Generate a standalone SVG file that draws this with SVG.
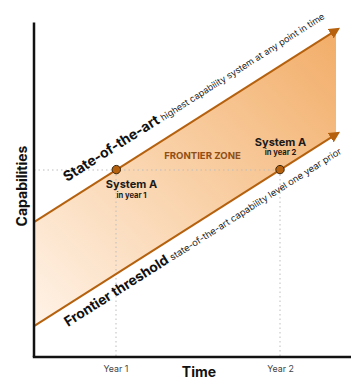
<svg xmlns="http://www.w3.org/2000/svg" width="359" height="392" viewBox="0 0 359 392">
<defs>
<linearGradient id="zoneGrad" gradientUnits="userSpaceOnUse" x1="34" y1="326" x2="336" y2="30">
<stop offset="0" stop-color="#fff3e8"/>
<stop offset="0.5" stop-color="#f9d1a8"/>
<stop offset="1" stop-color="#f2ad68"/>
</linearGradient>
<marker id="arrow" markerUnits="userSpaceOnUse" markerWidth="12" markerHeight="12" viewBox="0 -6 12 12" refX="1" refY="0" orient="auto">
<path d="M0,-5.5 L11,0 L0,5.5 z" fill="#b5610e"/>
</marker>
<style>
text { font-family: Inter, "Liberation Sans", Arial, sans-serif; }
.axis { stroke: #111; stroke-width: 2.5; fill: none; }
.guide { stroke: #bdbdbd; stroke-width: 1; stroke-dasharray: 1.5 3; fill: none; }
.trend { stroke: #b5610e; stroke-width: 2; fill: none; }
.dot { fill: #b5610e; stroke: #3a2408; stroke-width: 1; }
.bold { font-weight: 700; fill: #111; }
.reg { font-weight: 400; fill: #222; }
.tick { font-size: 8.8px; fill: #444; text-anchor: middle; }
.sys { font-size: 11px; font-weight: 700; fill: #1a1a1a; text-anchor: middle; }
.sub { font-size: 7.6px; font-weight: 700; fill: #1a1a1a; text-anchor: middle; }
</style>
</defs>
<g id="frontier-zone">
<polygon points="34,222.1 336,30.3 336,134.4 34,326.2" fill="url(#zoneGrad)"/>
<text x="202.5" y="159" font-size="9.6" font-weight="700" fill="#8f4e16" text-anchor="middle">FRONTIER ZONE</text>
</g>
<g id="guides">
<line class="guide" x1="34" y1="170" x2="280" y2="170"/>
<line class="guide" x1="116" y1="170" x2="116" y2="356"/>
<line class="guide" x1="280" y1="170" x2="280" y2="356"/>
</g>
<g id="connectors">
<line id="state-of-the-art-line" class="trend" x1="34" y1="222.1" x2="331.6" y2="33.2" marker-end="url(#arrow)"/>
<line id="frontier-threshold-line" class="trend" x1="34" y1="326.2" x2="331.6" y2="137.2" marker-end="url(#arrow)"/>
</g>
<g id="axes">
<line class="axis" x1="34" y1="22.5" x2="34" y2="357"/>
<line class="axis" x1="32.8" y1="357" x2="351" y2="357"/>
<text x="199" y="377" font-size="14" class="bold" text-anchor="middle">Time</text>
<text transform="translate(26.5,186) rotate(-90)" font-size="14" class="bold" text-anchor="middle">Capabilities</text>
<text x="116" y="372" class="tick">Year 1</text>
<text x="280.5" y="372" class="tick">Year 2</text>
</g>
<g id="state-of-the-art-label">
<text transform="translate(67,182) rotate(-32.4)"><tspan class="bold" font-size="14">State-of-the-art</tspan><tspan class="reg" font-size="9.05" dx="3">highest capability system at any point in time</tspan></text>
</g>
<g id="frontier-threshold-label">
<text transform="translate(68,327) rotate(-32.4)"><tspan class="bold" font-size="13.8">Frontier threshold</tspan><tspan class="reg" font-size="9.3" dx="3">state-of-the-art capability level one year prior</tspan></text>
</g>
<g id="system-a-year-1">
<circle class="dot" cx="116.3" cy="169.6" r="4.2"/>
<text x="131.5" y="188" class="sys">System A</text>
<text x="131.5" y="197.5" class="sub">in year 1</text>
</g>
<g id="system-a-year-2">
<circle class="dot" cx="280" cy="169.6" r="4.2"/>
<text x="280.5" y="145.5" class="sys">System A</text>
<text x="280.5" y="154.5" class="sub">in year 2</text>
</g>
</svg>
